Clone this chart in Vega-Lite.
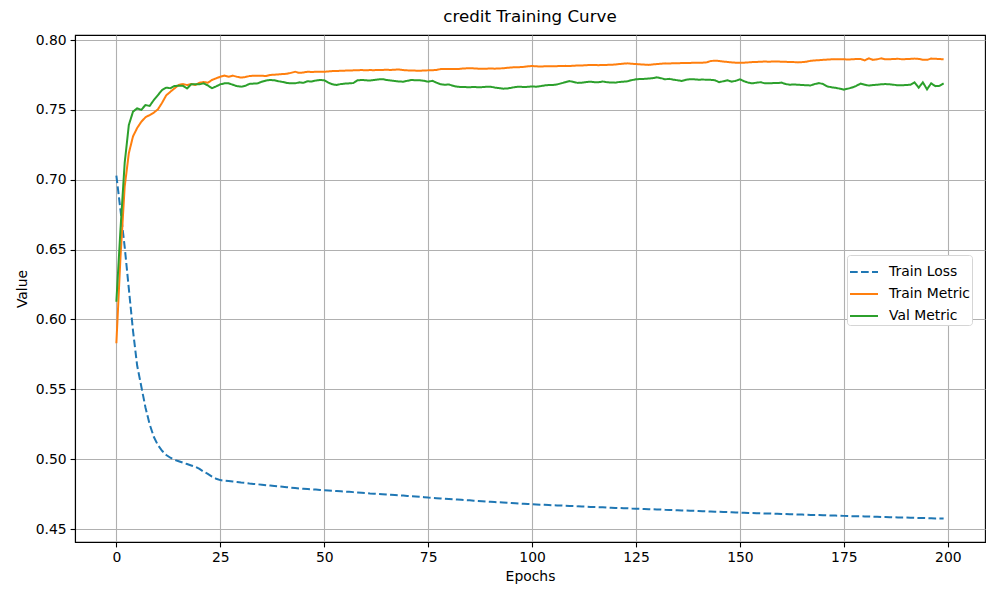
{
  "$schema": "https://vega.github.io/schema/vega-lite/v6.json",
  "autosize": {"type": "none"},
  "padding": {"left": 75, "top": 35, "right": 15, "bottom": 58},
  "width": 910,
  "height": 507,
  "background": "white",
  "title": {"text": "credit Training Curve", "fontSize": 16.7, "fontWeight": "normal", "font": "DejaVu Sans", "color": "black", "offset": 7},
  "config": {
    "font": "DejaVu Sans",
    "view": {"stroke": "black", "strokeWidth": 1.1},
    "axis": {
      "domainColor": "black", "domainWidth": 1.1,
      "tickColor": "black", "tickSize": 4.9, "tickWidth": 1.1,
      "labelColor": "black", "labelFontSize": 13.9, "labelFont": "DejaVu Sans",
      "titleColor": "black", "titleFontSize": 13.9, "titleFontWeight": "normal", "titleFont": "DejaVu Sans",
      "gridColor": "#b0b0b0", "gridWidth": 1.1, "gridOpacity": 1
    }
  },
  "data": {"values": [
{"e":0,"Train Loss":0.703,"Train Metric":0.583,"Val Metric":0.6127},
{"e":1,"Train Loss":0.678,"Train Metric":0.645,"Val Metric":0.665},
{"e":2,"Train Loss":0.652,"Train Metric":0.695,"Val Metric":0.712},
{"e":3,"Train Loss":0.622,"Train Metric":0.719,"Val Metric":0.7392},
{"e":4,"Train Loss":0.592,"Train Metric":0.731,"Val Metric":0.7487},
{"e":5,"Train Loss":0.567,"Train Metric":0.737,"Val Metric":0.7511},
{"e":6,"Train Loss":0.552,"Train Metric":0.7415,"Val Metric":0.75},
{"e":7,"Train Loss":0.537,"Train Metric":0.7447,"Val Metric":0.7535},
{"e":8,"Train Loss":0.525,"Train Metric":0.7463,"Val Metric":0.7528},
{"e":9,"Train Loss":0.516,"Train Metric":0.748,"Val Metric":0.757},
{"e":10,"Train Loss":0.51,"Train Metric":0.7504,"Val Metric":0.7606},
{"e":11,"Train Loss":0.506,"Train Metric":0.7551,"Val Metric":0.7642},
{"e":12,"Train Loss":0.503,"Train Metric":0.7604,"Val Metric":0.7659},
{"e":13,"Train Loss":0.501,"Train Metric":0.763,"Val Metric":0.7655},
{"e":14,"Train Loss":0.4995,"Train Metric":0.7654,"Val Metric":0.7671},
{"e":15,"Train Loss":0.4985,"Train Metric":0.7678,"Val Metric":0.7673},
{"e":16,"Train Loss":0.4975,"Train Metric":0.7685,"Val Metric":0.7673},
{"e":17,"Train Loss":0.4965,"Train Metric":0.7678,"Val Metric":0.7653},
{"e":18,"Train Loss":0.4955,"Train Metric":0.7685,"Val Metric":0.7683},
{"e":19,"Train Loss":0.4945,"Train Metric":0.7678,"Val Metric":0.7683},
{"e":20,"Train Loss":0.493,"Train Metric":0.7694,"Val Metric":0.7683},
{"e":21,"Train Loss":0.491,"Train Metric":0.77,"Val Metric":0.769},
{"e":22,"Train Loss":0.4895,"Train Metric":0.7694,"Val Metric":0.7675},
{"e":23,"Train Loss":0.4875,"Train Metric":0.7714,"Val Metric":0.7655},
{"e":24,"Train Loss":0.486,"Train Metric":0.7726,"Val Metric":0.7668},
{"e":25,"Train Loss":0.485,"Train Metric":0.7737,"Val Metric":0.7683},
{"e":26,"Train Loss":0.4846,"Train Metric":0.7745,"Val Metric":0.769},
{"e":27,"Train Loss":0.4843,"Train Metric":0.7737,"Val Metric":0.769},
{"e":28,"Train Loss":0.484,"Train Metric":0.7745,"Val Metric":0.768},
{"e":29,"Train Loss":0.4837,"Train Metric":0.7737,"Val Metric":0.767},
{"e":30,"Train Loss":0.4833,"Train Metric":0.7731,"Val Metric":0.7666},
{"e":31,"Train Loss":0.483,"Train Metric":0.7735,"Val Metric":0.7672},
{"e":32,"Train Loss":0.4826,"Train Metric":0.7742,"Val Metric":0.7686},
{"e":33,"Train Loss":0.4823,"Train Metric":0.7745,"Val Metric":0.7688},
{"e":34,"Train Loss":0.482,"Train Metric":0.7745,"Val Metric":0.769},
{"e":35,"Train Loss":0.4817,"Train Metric":0.7745,"Val Metric":0.7702},
{"e":36,"Train Loss":0.4814,"Train Metric":0.7742,"Val Metric":0.771},
{"e":37,"Train Loss":0.4811,"Train Metric":0.775,"Val Metric":0.7714},
{"e":38,"Train Loss":0.4808,"Train Metric":0.7752,"Val Metric":0.7712},
{"e":39,"Train Loss":0.4805,"Train Metric":0.7754,"Val Metric":0.7705},
{"e":40,"Train Loss":0.4802,"Train Metric":0.7757,"Val Metric":0.77},
{"e":41,"Train Loss":0.4799,"Train Metric":0.7758,"Val Metric":0.7693},
{"e":42,"Train Loss":0.4796,"Train Metric":0.7765,"Val Metric":0.769},
{"e":43,"Train Loss":0.4793,"Train Metric":0.7773,"Val Metric":0.769},
{"e":44,"Train Loss":0.479,"Train Metric":0.7765,"Val Metric":0.7697},
{"e":45,"Train Loss":0.4788,"Train Metric":0.7768,"Val Metric":0.7694},
{"e":46,"Train Loss":0.4786,"Train Metric":0.7773,"Val Metric":0.7705},
{"e":47,"Train Loss":0.4784,"Train Metric":0.7771,"Val Metric":0.7703},
{"e":48,"Train Loss":0.4782,"Train Metric":0.7773,"Val Metric":0.771},
{"e":49,"Train Loss":0.478,"Train Metric":0.7773,"Val Metric":0.7714},
{"e":50,"Train Loss":0.4778,"Train Metric":0.7773,"Val Metric":0.7712},
{"e":51,"Train Loss":0.4776,"Train Metric":0.7775,"Val Metric":0.7695},
{"e":52,"Train Loss":0.4774,"Train Metric":0.7778,"Val Metric":0.7683},
{"e":53,"Train Loss":0.4772,"Train Metric":0.7778,"Val Metric":0.7678},
{"e":54,"Train Loss":0.477,"Train Metric":0.778,"Val Metric":0.7685},
{"e":55,"Train Loss":0.4768,"Train Metric":0.7781,"Val Metric":0.7688},
{"e":56,"Train Loss":0.4766,"Train Metric":0.7782,"Val Metric":0.769},
{"e":57,"Train Loss":0.4764,"Train Metric":0.7783,"Val Metric":0.7692},
{"e":58,"Train Loss":0.4762,"Train Metric":0.7784,"Val Metric":0.7712},
{"e":59,"Train Loss":0.476,"Train Metric":0.7785,"Val Metric":0.7714},
{"e":60,"Train Loss":0.4758,"Train Metric":0.7783,"Val Metric":0.7712},
{"e":61,"Train Loss":0.4755,"Train Metric":0.7785,"Val Metric":0.771},
{"e":62,"Train Loss":0.4753,"Train Metric":0.7784,"Val Metric":0.7714},
{"e":63,"Train Loss":0.4751,"Train Metric":0.7786,"Val Metric":0.7718},
{"e":64,"Train Loss":0.4749,"Train Metric":0.7786,"Val Metric":0.772},
{"e":65,"Train Loss":0.4747,"Train Metric":0.7787,"Val Metric":0.7714},
{"e":66,"Train Loss":0.4745,"Train Metric":0.7786,"Val Metric":0.771},
{"e":67,"Train Loss":0.4743,"Train Metric":0.7788,"Val Metric":0.7707},
{"e":68,"Train Loss":0.4741,"Train Metric":0.7789,"Val Metric":0.7703},
{"e":69,"Train Loss":0.4739,"Train Metric":0.7785,"Val Metric":0.7702},
{"e":70,"Train Loss":0.4737,"Train Metric":0.7783,"Val Metric":0.7708},
{"e":71,"Train Loss":0.4735,"Train Metric":0.7782,"Val Metric":0.7714},
{"e":72,"Train Loss":0.4733,"Train Metric":0.7781,"Val Metric":0.7712},
{"e":73,"Train Loss":0.4731,"Train Metric":0.778,"Val Metric":0.7712},
{"e":74,"Train Loss":0.4728,"Train Metric":0.7782,"Val Metric":0.7708},
{"e":75,"Train Loss":0.4725,"Train Metric":0.7783,"Val Metric":0.7702},
{"e":76,"Train Loss":0.4723,"Train Metric":0.7784,"Val Metric":0.7708},
{"e":77,"Train Loss":0.4721,"Train Metric":0.7786,"Val Metric":0.7695},
{"e":78,"Train Loss":0.4719,"Train Metric":0.7792,"Val Metric":0.7683},
{"e":79,"Train Loss":0.4717,"Train Metric":0.7793,"Val Metric":0.768},
{"e":80,"Train Loss":0.4715,"Train Metric":0.7792,"Val Metric":0.7682},
{"e":81,"Train Loss":0.4713,"Train Metric":0.7793,"Val Metric":0.7672},
{"e":82,"Train Loss":0.4711,"Train Metric":0.7792,"Val Metric":0.7666},
{"e":83,"Train Loss":0.4709,"Train Metric":0.7795,"Val Metric":0.7663},
{"e":84,"Train Loss":0.4707,"Train Metric":0.7797,"Val Metric":0.7663},
{"e":85,"Train Loss":0.4705,"Train Metric":0.7798,"Val Metric":0.7662},
{"e":86,"Train Loss":0.4703,"Train Metric":0.7797,"Val Metric":0.7664},
{"e":87,"Train Loss":0.4701,"Train Metric":0.7795,"Val Metric":0.7662},
{"e":88,"Train Loss":0.4699,"Train Metric":0.7794,"Val Metric":0.7663},
{"e":89,"Train Loss":0.4697,"Train Metric":0.7795,"Val Metric":0.7665},
{"e":90,"Train Loss":0.4695,"Train Metric":0.7796,"Val Metric":0.7666},
{"e":91,"Train Loss":0.4693,"Train Metric":0.7795,"Val Metric":0.766},
{"e":92,"Train Loss":0.4691,"Train Metric":0.7796,"Val Metric":0.7656},
{"e":93,"Train Loss":0.469,"Train Metric":0.7798,"Val Metric":0.7652},
{"e":94,"Train Loss":0.4688,"Train Metric":0.7801,"Val Metric":0.7653},
{"e":95,"Train Loss":0.4686,"Train Metric":0.7804,"Val Metric":0.7658},
{"e":96,"Train Loss":0.4684,"Train Metric":0.7805,"Val Metric":0.7664},
{"e":97,"Train Loss":0.4682,"Train Metric":0.7806,"Val Metric":0.7666},
{"e":98,"Train Loss":0.4681,"Train Metric":0.7808,"Val Metric":0.7664},
{"e":99,"Train Loss":0.4679,"Train Metric":0.7812,"Val Metric":0.7665},
{"e":100,"Train Loss":0.4677,"Train Metric":0.7814,"Val Metric":0.7668},
{"e":101,"Train Loss":0.4676,"Train Metric":0.7812,"Val Metric":0.7666},
{"e":102,"Train Loss":0.4674,"Train Metric":0.781,"Val Metric":0.767},
{"e":103,"Train Loss":0.4673,"Train Metric":0.7812,"Val Metric":0.7675},
{"e":104,"Train Loss":0.4672,"Train Metric":0.7813,"Val Metric":0.7678},
{"e":105,"Train Loss":0.467,"Train Metric":0.7812,"Val Metric":0.7678},
{"e":106,"Train Loss":0.4669,"Train Metric":0.7813,"Val Metric":0.7682},
{"e":107,"Train Loss":0.4668,"Train Metric":0.7814,"Val Metric":0.769},
{"e":108,"Train Loss":0.4666,"Train Metric":0.7815,"Val Metric":0.7698},
{"e":109,"Train Loss":0.4665,"Train Metric":0.7814,"Val Metric":0.7706},
{"e":110,"Train Loss":0.4664,"Train Metric":0.7816,"Val Metric":0.77},
{"e":111,"Train Loss":0.4662,"Train Metric":0.7818,"Val Metric":0.7693},
{"e":112,"Train Loss":0.4661,"Train Metric":0.7818,"Val Metric":0.7695},
{"e":113,"Train Loss":0.466,"Train Metric":0.782,"Val Metric":0.7699},
{"e":114,"Train Loss":0.4658,"Train Metric":0.7821,"Val Metric":0.7702},
{"e":115,"Train Loss":0.4657,"Train Metric":0.7821,"Val Metric":0.7698},
{"e":116,"Train Loss":0.4656,"Train Metric":0.782,"Val Metric":0.7698},
{"e":117,"Train Loss":0.4655,"Train Metric":0.7822,"Val Metric":0.7703},
{"e":118,"Train Loss":0.4653,"Train Metric":0.7822,"Val Metric":0.7698},
{"e":119,"Train Loss":0.4652,"Train Metric":0.7823,"Val Metric":0.7696},
{"e":120,"Train Loss":0.4651,"Train Metric":0.7825,"Val Metric":0.7695},
{"e":121,"Train Loss":0.465,"Train Metric":0.7828,"Val Metric":0.77},
{"e":122,"Train Loss":0.4649,"Train Metric":0.7831,"Val Metric":0.7702},
{"e":123,"Train Loss":0.4648,"Train Metric":0.7833,"Val Metric":0.7705},
{"e":124,"Train Loss":0.4646,"Train Metric":0.783,"Val Metric":0.7713},
{"e":125,"Train Loss":0.4645,"Train Metric":0.7828,"Val Metric":0.7719},
{"e":126,"Train Loss":0.4644,"Train Metric":0.7826,"Val Metric":0.7721},
{"e":127,"Train Loss":0.4643,"Train Metric":0.7824,"Val Metric":0.7722},
{"e":128,"Train Loss":0.4642,"Train Metric":0.7822,"Val Metric":0.7724},
{"e":129,"Train Loss":0.4641,"Train Metric":0.7825,"Val Metric":0.7727},
{"e":130,"Train Loss":0.464,"Train Metric":0.7828,"Val Metric":0.7733},
{"e":131,"Train Loss":0.4639,"Train Metric":0.783,"Val Metric":0.7727},
{"e":132,"Train Loss":0.4637,"Train Metric":0.7833,"Val Metric":0.7719},
{"e":133,"Train Loss":0.4636,"Train Metric":0.7832,"Val Metric":0.7722},
{"e":134,"Train Loss":0.4635,"Train Metric":0.7834,"Val Metric":0.7716},
{"e":135,"Train Loss":0.4634,"Train Metric":0.7834,"Val Metric":0.7712},
{"e":136,"Train Loss":0.4633,"Train Metric":0.7835,"Val Metric":0.7707},
{"e":137,"Train Loss":0.4632,"Train Metric":0.7836,"Val Metric":0.7715},
{"e":138,"Train Loss":0.4631,"Train Metric":0.7836,"Val Metric":0.772},
{"e":139,"Train Loss":0.463,"Train Metric":0.7838,"Val Metric":0.7719},
{"e":140,"Train Loss":0.4629,"Train Metric":0.7838,"Val Metric":0.7716},
{"e":141,"Train Loss":0.4627,"Train Metric":0.7838,"Val Metric":0.7717},
{"e":142,"Train Loss":0.4626,"Train Metric":0.784,"Val Metric":0.7716},
{"e":143,"Train Loss":0.4625,"Train Metric":0.785,"Val Metric":0.7715},
{"e":144,"Train Loss":0.4624,"Train Metric":0.7852,"Val Metric":0.7712},
{"e":145,"Train Loss":0.4623,"Train Metric":0.785,"Val Metric":0.7698},
{"e":146,"Train Loss":0.4622,"Train Metric":0.7846,"Val Metric":0.7705},
{"e":147,"Train Loss":0.4621,"Train Metric":0.7843,"Val Metric":0.7712},
{"e":148,"Train Loss":0.462,"Train Metric":0.784,"Val Metric":0.7702},
{"e":149,"Train Loss":0.4618,"Train Metric":0.7838,"Val Metric":0.7708},
{"e":150,"Train Loss":0.4617,"Train Metric":0.7837,"Val Metric":0.7719},
{"e":151,"Train Loss":0.4616,"Train Metric":0.7838,"Val Metric":0.7705},
{"e":152,"Train Loss":0.4615,"Train Metric":0.784,"Val Metric":0.7695},
{"e":153,"Train Loss":0.4614,"Train Metric":0.7842,"Val Metric":0.769},
{"e":154,"Train Loss":0.4613,"Train Metric":0.7843,"Val Metric":0.7695},
{"e":155,"Train Loss":0.4612,"Train Metric":0.7845,"Val Metric":0.7698},
{"e":156,"Train Loss":0.4611,"Train Metric":0.7846,"Val Metric":0.769},
{"e":157,"Train Loss":0.4611,"Train Metric":0.7845,"Val Metric":0.769},
{"e":158,"Train Loss":0.461,"Train Metric":0.7846,"Val Metric":0.7692},
{"e":159,"Train Loss":0.4609,"Train Metric":0.7846,"Val Metric":0.7692},
{"e":160,"Train Loss":0.4608,"Train Metric":0.7845,"Val Metric":0.7695},
{"e":161,"Train Loss":0.4607,"Train Metric":0.7844,"Val Metric":0.7685},
{"e":162,"Train Loss":0.4606,"Train Metric":0.7843,"Val Metric":0.768},
{"e":163,"Train Loss":0.4605,"Train Metric":0.7842,"Val Metric":0.7682},
{"e":164,"Train Loss":0.4604,"Train Metric":0.784,"Val Metric":0.768},
{"e":165,"Train Loss":0.4603,"Train Metric":0.7842,"Val Metric":0.7678},
{"e":166,"Train Loss":0.4602,"Train Metric":0.7845,"Val Metric":0.7676},
{"e":167,"Train Loss":0.4601,"Train Metric":0.7851,"Val Metric":0.7675},
{"e":168,"Train Loss":0.46,"Train Metric":0.7854,"Val Metric":0.7685},
{"e":169,"Train Loss":0.46,"Train Metric":0.7856,"Val Metric":0.7692},
{"e":170,"Train Loss":0.4599,"Train Metric":0.7858,"Val Metric":0.7685},
{"e":171,"Train Loss":0.4598,"Train Metric":0.786,"Val Metric":0.7668},
{"e":172,"Train Loss":0.4597,"Train Metric":0.7862,"Val Metric":0.7662},
{"e":173,"Train Loss":0.4596,"Train Metric":0.7862,"Val Metric":0.7658},
{"e":174,"Train Loss":0.4595,"Train Metric":0.7863,"Val Metric":0.7652},
{"e":175,"Train Loss":0.4594,"Train Metric":0.7862,"Val Metric":0.7645},
{"e":176,"Train Loss":0.4593,"Train Metric":0.7861,"Val Metric":0.7652},
{"e":177,"Train Loss":0.4592,"Train Metric":0.7862,"Val Metric":0.766},
{"e":178,"Train Loss":0.4591,"Train Metric":0.7864,"Val Metric":0.7672},
{"e":179,"Train Loss":0.4591,"Train Metric":0.7865,"Val Metric":0.7688},
{"e":180,"Train Loss":0.459,"Train Metric":0.7854,"Val Metric":0.768},
{"e":181,"Train Loss":0.4589,"Train Metric":0.7869,"Val Metric":0.7674},
{"e":182,"Train Loss":0.4588,"Train Metric":0.7858,"Val Metric":0.7678},
{"e":183,"Train Loss":0.4587,"Train Metric":0.7862,"Val Metric":0.768},
{"e":184,"Train Loss":0.4586,"Train Metric":0.7869,"Val Metric":0.7683},
{"e":185,"Train Loss":0.4586,"Train Metric":0.7862,"Val Metric":0.7685},
{"e":186,"Train Loss":0.4585,"Train Metric":0.7863,"Val Metric":0.7683},
{"e":187,"Train Loss":0.4584,"Train Metric":0.7864,"Val Metric":0.768},
{"e":188,"Train Loss":0.4583,"Train Metric":0.7866,"Val Metric":0.7676},
{"e":189,"Train Loss":0.4582,"Train Metric":0.7862,"Val Metric":0.7676},
{"e":190,"Train Loss":0.4582,"Train Metric":0.7864,"Val Metric":0.7678},
{"e":191,"Train Loss":0.4581,"Train Metric":0.7865,"Val Metric":0.768},
{"e":192,"Train Loss":0.458,"Train Metric":0.7867,"Val Metric":0.7697},
{"e":193,"Train Loss":0.4579,"Train Metric":0.7865,"Val Metric":0.7659},
{"e":194,"Train Loss":0.4579,"Train Metric":0.7859,"Val Metric":0.7697},
{"e":195,"Train Loss":0.4578,"Train Metric":0.7858,"Val Metric":0.7647},
{"e":196,"Train Loss":0.4577,"Train Metric":0.7867,"Val Metric":0.769},
{"e":197,"Train Loss":0.4576,"Train Metric":0.7866,"Val Metric":0.767},
{"e":198,"Train Loss":0.4576,"Train Metric":0.7864,"Val Metric":0.7672},
{"e":199,"Train Loss":0.4575,"Train Metric":0.7862,"Val Metric":0.769}
  ]},
  "transform": [{"fold": ["Train Loss", "Train Metric", "Val Metric"], "as": ["series", "value"]}],
  "mark": {"type": "line", "strokeWidth": 2, "clip": true},
  "encoding": {
    "x": {"field": "e", "type": "quantitative", "title": "Epochs",
      "scale": {"domain": [-9.95, 208.95], "nice": false, "zero": false},
      "axis": {"values": [0, 25, 50, 75, 100, 125, 150, 175, 200], "format": "d", "labelPadding": 4, "titlePadding": 5}},
    "y": {"field": "value", "type": "quantitative", "title": "Value",
      "scale": {"domain": [0.4407, 0.8036], "nice": false, "zero": false},
      "axis": {"values": [0.45, 0.5, 0.55, 0.6, 0.65, 0.7, 0.75, 0.8], "format": ".2f", "labelPadding": 4, "titlePadding": 6}},
    "color": {"field": "series", "type": "nominal",
      "scale": {"domain": ["Train Loss", "Train Metric", "Val Metric"], "range": ["#1f77b4", "#ff7f0e", "#2ca02c"]},
      "legend": {"title": null, "orient": "none", "legendX": 772, "legendY": 220,
        "fillColor": "white", "strokeColor": "#d5d5d5", "cornerRadius": 3, "padding": 2,
        "symbolType": "stroke", "symbolSize": 784, "symbolStrokeWidth": 2,
        "labelFontSize": 13.9, "labelFont": "DejaVu Sans", "labelColor": "black", "labelOffset": 10, "rowPadding": -8.5,
        "symbolDash": [7.7, 3.3]}},
    "strokeDash": {"field": "series", "type": "nominal",
      "scale": {"domain": ["Train Loss", "Train Metric", "Val Metric"], "range": [[7.7, 3.3], [1, 0], [1, 0]]},
      "legend": null}
  }
}
